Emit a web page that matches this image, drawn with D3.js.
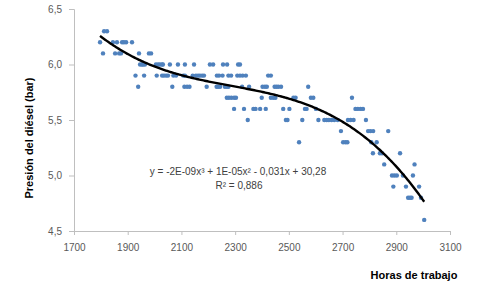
<!DOCTYPE html>
<html>
<head>
<meta charset="utf-8">
<script src="https://cdn.jsdelivr.net/npm/d3@7"></script>
<style>
  body { margin: 0; background: #fff; }
  svg { display: block; }
  .tick text { font-family: "Liberation Sans", Arial, sans-serif; font-size: 10px; fill: #595959; }
  .axis path, .axis line { stroke: #bfbfbf; }
</style>
</head>
<body>
<div class="canvas"></div>
<script>
// hours of work (x) and diesel pressure (y)
var hours = [
  1812, 1823,
  1797, 1845, 1860, 1879, 1886, 1894, 1916,
  1808, 1853, 1868, 1875, 1942, 1979, 1987,
  1946, 1953, 1957, 1964, 2005, 2013, 2020, 2028, 2031, 2057, 2087, 2113, 2147, 2206, 2218, 2255, 2270, 2311, 2318,
  1929, 1961, 2008, 2028, 2035, 2043, 2050, 2070, 2080, 2107, 2113, 2142, 2154, 2162, 2169, 2177, 2184, 2232, 2240, 2253, 2275, 2285, 2308, 2318, 2328, 2340, 2423, 2433,
  1939, 2066, 2111, 2121, 2130, 2194, 2231, 2237, 2244, 2262, 2269, 2275, 2326, 2352, 2402, 2411, 2418, 2447, 2454, 2461, 2471, 2572,
  2269, 2277, 2286, 2296, 2303, 2399, 2433, 2442, 2450, 2517, 2525, 2582, 2591, 2735,
  2296, 2333, 2368, 2376, 2393, 2414, 2479, 2502, 2560, 2566, 2601, 2748, 2757, 2767, 2776,
  2347, 2489, 2495, 2550, 2610, 2632, 2641, 2649, 2659, 2669, 2682, 2720, 2730, 2741, 2787,
  2694, 2795, 2804, 2814, 2870,
  2538, 2702, 2711, 2718, 2807, 2827,
  2813, 2839, 2847, 2914,
  2855, 2968,
  2884, 2893, 2902, 2925, 2962,
  2889, 2936, 2985,
  2944, 2951, 2957, 2992,
  3004
];
var pressure = [
  6.3, 6.3,
  6.2, 6.2, 6.2, 6.2, 6.2, 6.2, 6.2,
  6.1, 6.1, 6.1, 6.1, 6.1, 6.1, 6.1,
  6.0, 6.0, 6.0, 6.0, 6.0, 6.0, 6.0, 6.0, 6.0, 6.0, 6.0, 6.0, 6.0, 6.0, 6.0, 6.0, 6.0, 6.0, 6.0,
  5.9, 5.9, 5.9, 5.9, 5.9, 5.9, 5.9, 5.9, 5.9, 5.9, 5.9, 5.9, 5.9, 5.9, 5.9, 5.9, 5.9, 5.9, 5.9, 5.9, 5.9, 5.9, 5.9, 5.9, 5.9, 5.9, 5.9, 5.9,
  5.8, 5.8, 5.8, 5.8, 5.8, 5.8, 5.8, 5.8, 5.8, 5.8, 5.8, 5.8, 5.8, 5.8, 5.8, 5.8, 5.8, 5.8, 5.8, 5.8, 5.8, 5.8,
  5.7, 5.7, 5.7, 5.7, 5.7, 5.7, 5.7, 5.7, 5.7, 5.7, 5.7, 5.7, 5.7, 5.7,
  5.6, 5.6, 5.6, 5.6, 5.6, 5.6, 5.6, 5.6, 5.6, 5.6, 5.6, 5.6, 5.6, 5.6, 5.6,
  5.5, 5.5, 5.5, 5.5, 5.5, 5.5, 5.5, 5.5, 5.5, 5.5, 5.5, 5.5, 5.5, 5.5, 5.5,
  5.4, 5.4, 5.4, 5.4, 5.4,
  5.3, 5.3, 5.3, 5.3, 5.3, 5.3,
  5.2, 5.2, 5.2, 5.2,
  5.1, 5.1,
  5.0, 5.0, 5.0, 5.0, 5.0,
  4.9, 4.9, 4.9,
  4.8, 4.8, 4.8, 4.8,
  4.6
];
var xTicks = [1700, 1900, 2100, 2300, 2500, 2700, 2900, 3100];
var yTicks = [4.5, 5.0, 5.5, 6.0, 6.5];
var equationText = "y = -2E-09x\u00b3 + 1E-05x\u00b2 - 0,031x + 30,28";
var r2Text = "R\u00b2 = 0,886";

var width = 489, height = 284;
var svg = d3.select(".canvas").append("svg")
    .attr("width", width)
    .attr("height", height);

var x = d3.scaleLinear().domain([1700, 3100]).range([74, 450]);
var y = d3.scaleLinear().domain([4.5, 6.5]).range([231, 9]);
var comma = d3.formatLocale({decimal: ",", thousands: ".", grouping: [3], currency: ["", ""]});

// axes
svg.append("g")
    .attr("class", "axis")
    .attr("transform", "translate(0,231)")
    .call(d3.axisBottom(x).tickValues(xTicks).tickSize(4).tickPadding(9).tickFormat(d3.format("d")));

svg.append("g")
    .attr("class", "axis")
    .attr("transform", "translate(74,0)")
    .call(d3.axisLeft(y).tickValues(yTicks).tickSize(5).tickPadding(7).tickFormat(comma.format(".1f")));

svg.selectAll(".axis .domain").attr("stroke", "#bfbfbf");

// points
var pts = hours.map(function(h, i) { return {h: h, p: pressure[i]}; });
svg.append("g")
    .selectAll("circle")
    .data(pts)
    .enter().append("circle")
    .attr("cx", d => x(d.h))
    .attr("cy", d => y(d.p))
    .attr("r", 2.2)
    .attr("fill", "#4f81bd");

// cubic least squares trend (x centered for stability)
function cubicFit(xs, ys) {
    var n = 4, A = [], b = [];
    for (var i = 0; i < n; i++) { A.push([0, 0, 0, 0]); b.push(0); }
    xs.forEach(function(xv, k) {
        var t = (xv - 2400) / 100;
        var pw = [1, t, t * t, t * t * t];
        for (var i = 0; i < n; i++) {
            b[i] += pw[i] * ys[k];
            for (var j = 0; j < n; j++) A[i][j] += pw[i] * pw[j];
        }
    });
    for (var c = 0; c < n; c++) {
        var piv = c;
        for (var r = c + 1; r < n; r++) if (Math.abs(A[r][c]) > Math.abs(A[piv][c])) piv = r;
        var tmp = A[c]; A[c] = A[piv]; A[piv] = tmp;
        var tb = b[c]; b[c] = b[piv]; b[piv] = tb;
        for (var r2 = c + 1; r2 < n; r2++) {
            var f = A[r2][c] / A[c][c];
            for (var j2 = c; j2 < n; j2++) A[r2][j2] -= f * A[c][j2];
            b[r2] -= f * b[c];
        }
    }
    var coef = [0, 0, 0, 0];
    for (var i2 = n - 1; i2 >= 0; i2--) {
        var s = b[i2];
        for (var j3 = i2 + 1; j3 < n; j3++) s -= A[i2][j3] * coef[j3];
        coef[i2] = s / A[i2][i2];
    }
    return function(xv) {
        var t = (xv - 2400) / 100;
        return coef[0] + coef[1] * t + coef[2] * t * t + coef[3] * t * t * t;
    };
}

var trend = cubicFit(hours, pressure);
var hMin = d3.min(hours), hMax = d3.max(hours);
var trendPts = d3.range(hMin, hMax, 5).concat([hMax]);

svg.append("path")
    .datum(trendPts)
    .attr("fill", "none")
    .attr("stroke", "#000")
    .attr("stroke-width", 2.4)
    .attr("d", d3.line().x(d => x(d)).y(d => y(trend(d))));

// equation label
var eq = svg.append("g")
    .attr("font-family", "'Liberation Sans', Arial, sans-serif")
    .attr("font-size", "10px")
    .attr("fill", "#404040");
eq.append("text").attr("x", 238).attr("y", 175).attr("text-anchor", "middle").text(equationText);
eq.append("text").attr("x", 239).attr("y", 189).attr("text-anchor", "middle").text(r2Text);

// axis titles
svg.append("text")
    .attr("transform", "translate(33,138) rotate(-90)")
    .attr("text-anchor", "middle")
    .attr("font-family", "'Liberation Sans', Arial, sans-serif")
    .attr("font-size", "11px")
    .attr("font-weight", "bold")
    .attr("fill", "#000")
    .text("Presión del diésel (bar)");

svg.append("text")
    .attr("x", 414)
    .attr("y", 279)
    .attr("text-anchor", "middle")
    .attr("font-family", "'Liberation Sans', Arial, sans-serif")
    .attr("font-size", "11px")
    .attr("font-weight", "bold")
    .attr("fill", "#000")
    .text("Horas de trabajo");
</script>
</body>
</html>
